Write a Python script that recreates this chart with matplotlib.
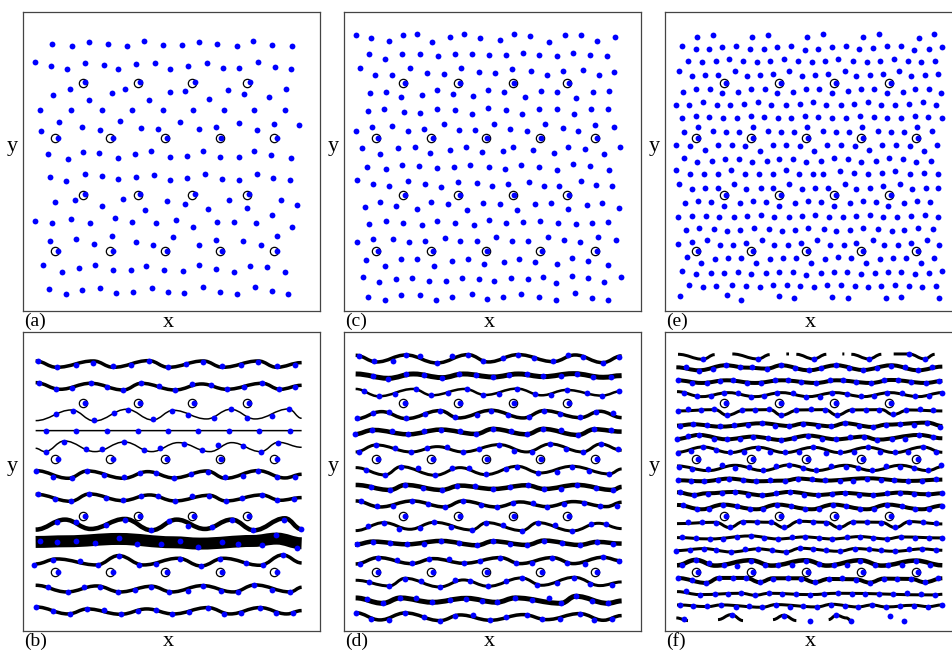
import matplotlib
matplotlib.use('Agg')
import matplotlib.pyplot as plt
from matplotlib.path import Path
from matplotlib.patches import PathPatch

plt.rcParams['font.family'] = ['Liberation Serif', 'DejaVu Serif']

# ---------------- panel (a): particle positions (units: 1/3 px) ----------------
a_dots = [
    [(157,133),(215,137),(267,127),(323,133),(382,137),(432,124),(490,134),(546,136),(596,125),(652,133),(711,137),(760,122),(816,134),(875,138)],
    [(104,187),(154,198),(201,208),(256,190),(311,194),(355,208),(409,193),(464,190),(511,208),(564,197),(620,189),(668,203),(718,203),(775,187),(825,202),(873,207)],
    [(256,247),(421,247),(585,247),(750,247)],
    [(159,286),(211,268),(267,299),(336,280),(374,268),(448,300),(509,277),(556,274),(626,296),(683,270),(731,283),(806,292),(857,268)],
    [(121,331),(214,329),(305,331),(397,331),(488,331),(578,330),(671,329),(761,329),(854,329)],
    [(124,394),(178,366),(247,380),(299,391),(359,363),(422,384),(473,387),(540,365),(597,387),(647,380),(718,370),(772,390),(822,372),(896,375)],
    [(173,415),(338,415),(502,415),(664,415),(830,415)],
    [(145,461),(203,476),(250,457),(298,458),(355,474),(406,463),(452,454),(509,472),(562,468),(608,452),(660,470),(716,470),(763,452),(814,466),(872,475)],
    [(151,530),(199,544),(254,523),(307,528),(355,538),(408,530),(463,525),(511,539),(561,534),(616,523),(665,537),(716,539),(770,522),(819,534),(869,541)],
    [(256,583),(421,583),(585,583),(748,583)],
    [(164,607),(224,601),(307,619),(368,597),(436,631),(501,603),(556,611),(625,626),(686,600),(742,625),(844,601),(892,616)],
    [(104,662),(155,670),(212,656),(271,670),(346,654),(395,666),(469,668),(529,661),(579,680),(652,666),(701,666),(769,670),(815,646),(876,680)],
    [(150,724),(228,716),(283,733),(337,707),(408,726),(458,736),(518,712),(596,735),(649,721),(730,723),(782,734),(832,707)],
    [(175,752),(338,752),(500,752),(665,752),(830,752)],
    [(130,796),(186,815),(238,804),(284,794),(339,811),(392,810),(438,799),(493,810),(549,813),(596,796),(647,806),(703,815),(750,797),(800,802),(856,816)],
    [(147,868),(197,881),(245,871),(300,865),(349,879),(398,877),(456,864),(504,877),(552,879),(610,862),(660,877),(711,882),(766,861),(816,874),(863,882)],
]
a_pins = [(250,248),(415,248),(577,248),(742,248),(165,415),(330,415),(494,415),(659,415),(823,415),
          (250,585),(415,585),(577,585),(742,585),(165,752),(330,752),(494,752),(659,752),(823,752)]

# ---------------- panel (c) ----------------
c_dots = [
    [(107,105),(152,115),(206,124),(248,105),(290,103),(335,125),(389,112),(432,103),(479,114),(539,120),(583,102),(631,108),(687,125),(734,105),(782,106),(831,123),(884,112)],
    [(147,162),(195,176),(246,161),(301,162),(355,169),(406,162),(457,161),(507,166),(559,165),(609,160),(657,166),(711,168),(760,160),(811,165),(862,169)],
    [(119,205),(165,224),(216,224),(271,205),(322,218),(371,221),(424,205),(478,217),(525,220),(575,208),(633,214),(681,224),(729,213),(788,211),(836,225),(883,217)],
    [(256,248),(421,248),(583,248),(748,248)],
    [(150,280),(198,275),(244,290),(306,285),(350,270),(398,282),(460,289),(505,270),(552,277),(614,292),(662,273),(712,275),(768,293),(818,276),(866,273)],
    [(143,334),(193,328),(252,337),(301,340),(350,327),(406,331),(455,343),(505,325),(559,330),(607,343),(658,326),(712,328),(763,341),(813,328),(863,327)],
    [(107,393),(155,381),(217,378),(263,392),(313,387),(371,373),(417,389),(465,391),(522,371),(571,387),(622,392),(675,371),(728,385),(775,394),(826,375),(883,381)],
    [(175,415),(338,415),(500,415),(663,415),(830,415)],
    [(127,444),(180,463),(234,443),(284,441),(331,460),(390,449),(437,440),(486,455),(548,453),(580,440),(640,450),(702,459),(745,440),(796,446),(853,462),(901,441)],
    [(142,500),(199,507),(245,496),(296,497),(352,503),(401,501),(451,496),(506,502),(556,506),(604,495),(658,500),(712,509),(759,493),(811,498),(866,510)],
    [(111,541),(159,553),(208,558),(263,542),(316,551),(363,560),(413,547),(471,548),(517,557),(565,552),(628,546),(673,558),(718,558),(782,543),(827,556),(877,559)],
    [(256,585),(420,585),(583,585),(748,585)],
    [(136,622),(180,607),(227,619),(290,627),(334,606),(384,613),(440,631),(489,608),(540,613),(591,631),(646,612),(693,610),(743,628),(802,615),(847,609),(896,623)],
    [(147,671),(197,663),(250,668),(305,675),(351,662),(404,668),(461,675),(507,661),(559,670),(609,667),(660,664),(713,668),(768,671),(816,668),(865,665)],
    [(111,726),(160,717),(220,717),(266,727),(314,722),(375,713),(421,724),(470,724),(529,710),(576,724),(625,724),(684,710),(733,721),(781,726),(833,711),(888,720)],
    [(175,752),(340,752),(502,752),(665,752),(830,752)],
    [(137,781),(196,798),(242,778),(291,778),(343,798),(396,784),(443,778),(491,792),(551,785),(598,776),(644,785),(710,791),(755,774),(803,784),(865,795)],
    [(129,832),(178,847),(229,837),(277,833),(326,842),(378,842),(425,835),(476,837),(523,842),(574,835),(624,836),(668,832),(709,850),(757,829),(805,835),(851,847),(902,831)],
    [(145,890),(194,899),(242,884),(301,886),(348,899),(396,890),(455,883),(500,897),(548,892),(604,881),(657,892),(708,900),(765,878),(815,895),(864,899)],
]
c_pins = [(250,248),(415,248),(578,248),(742,248),(167,415),(332,415),(497,415),(660,415),(825,415),
          (250,585),(415,585),(578,585),(742,585),(167,752),(332,752),(497,752),(660,752),(825,752)]

# ---------------- panel (e) ----------------
e_dots = [
    [(187,110),(233,104),(350,110),(398,104),(517,112),(565,103),(684,112),(731,101),(852,113),(896,102)],
    [(140,139),(182,147),(222,146),(262,142),(304,139),(345,147),(386,146),(426,141),(467,139),(509,149),(550,146),(591,140),(632,138),(673,147),(715,145),(756,139),(797,139),(837,149),(881,146),(921,140)],
    [(160,183),(202,187),(242,184),(282,177),(325,183),(365,187),(406,184),(446,178),(490,183),(530,187),(571,184),(610,177),(654,183),(695,186),(735,182),(776,177),(818,183),(858,186),(901,184)],
    [(133,214),(170,227),(211,226),(250,224),(299,214),(336,227),(375,226),(414,222),(463,214),(500,227),(541,226),(580,222),(629,214),(664,227),(706,226),(744,222),(793,214),(828,227),(869,225),(909,222)],
    [(272,248),(438,248),(604,248),(768,248)],
    [(145,275),(183,266),(224,268),(262,280),(309,275),(349,266),(389,268),(427,280),(474,275),(512,266),(553,268),(591,280),(638,274),(677,266),(717,268),(756,280),(803,275),(841,266),(882,268),(919,279)],
    [(122,314),(162,314),(204,306),(245,314),(286,314),(328,311),(369,306),(408,314),(452,314),(494,311),(535,306),(574,314),(617,314),(657,313),(699,306),(738,314),(781,314),(822,312),(864,306),(902,314)],
    [(141,354),(182,348),(222,352),(264,354),(305,354),(347,348),(387,352),(429,354),(469,354),(510,348),(550,352),(592,354),(633,354),(675,348),(716,352),(756,354),(797,354),(839,348),(880,352),(922,354)],
    [(148,395),(188,382),(234,392),(273,396),(311,395),(353,382),(398,392),(438,396),(476,395),(517,382),(565,392),(604,396),(641,395),(682,382),(728,392),(767,396),(806,395),(847,382),(892,392)],
    [(190,415),(354,415),(520,415),(684,415),(848,415)],
    [(124,436),(166,438),(210,451),(249,436),(290,436),(330,438),(374,452),(413,436),(454,436),(494,438),(538,452),(577,436),(618,436),(659,438),(702,451),(742,434),(784,436),(824,438),(866,452),(905,436)],
    [(147,474),(185,486),(230,483),(270,476),(311,476),(350,486),(395,483),(432,476),(475,476),(513,486),(558,483),(598,474),(639,476),(677,486),(722,483),(762,474),(803,476),(843,486),(888,483)],
    [(124,511),(166,522),(208,523),(249,522),(289,511),(330,522),(372,523),(413,522),(452,511),(493,522),(535,523),(565,522),(616,514),(658,520),(700,522),(742,520),(781,512),(824,522),(866,520),(908,522)],
    [(133,551),(170,566),(211,565),(250,563),(297,551),(333,566),(377,565),(414,563),(463,551),(500,566),(540,565),(580,563),(631,551),(664,566),(706,565),(744,557),(795,551),(831,566),(872,565),(908,563)],
    [(272,585),(438,585),(604,585),(768,585)],
    [(150,610),(188,604),(227,606),(268,617),(316,610),(353,604),(392,606),(432,617),(479,610),(518,604),(557,606),(596,617),(644,610),(683,604),(723,606),(760,617),(807,610),(847,604),(886,606)],
    [(128,651),(172,648),(212,648),(253,652),(296,651),(336,648),(377,645),(418,650),(461,651),(500,648),(541,645),(582,650),(624,651),(664,648),(705,645),(745,650),(787,651),(828,648),(869,645),(910,650)],
    [(152,689),(192,685),(238,688),(276,693),(316,690),(356,685),(402,688),(442,693),(480,690),(520,685),(566,688),(604,693),(644,690),(684,685),(730,688),(770,693),(808,690),(850,685),(895,688)],
    [(130,732),(172,727),(216,720),(256,734),(295,734),(333,729),(380,720),(418,734),(460,734),(497,729),(546,720),(584,734),(626,734),(662,729),(713,720),(748,734),(790,734),(828,729),(876,720),(912,734)],
    [(190,752),(354,752),(520,752),(684,752),(848,752)],
    [(156,772),(198,789),(240,776),(280,775),(319,775),(362,789),(405,776),(444,775),(484,775),(527,789),(570,776),(609,772),(649,775),(692,789),(735,776),(774,773),(814,775),(857,789),(898,775)],
    [(140,812),(183,823),(227,818),(267,818),(308,816),(349,823),(392,818),(432,816),(473,816),(514,824),(557,818),(597,816),(637,816),(679,823),(720,818),(759,816),(799,816),(840,823),(882,820),(922,814)],
    [(162,856),(205,862),(244,857),(292,854),(332,857),(374,862),(413,854),(456,854),(496,857),(538,862),(576,856),(618,854),(660,858),(700,862),(739,857),(780,854),(822,858),(862,862),(904,857)],
    [(135,889),(275,886),(317,899),(431,888),(477,894),(591,891),(638,894),(752,895),(798,892),(912,895)],
]
e_pins = [(266,248),(432,248),(597,248),(762,248),(183,415),(348,415),(514,415),(679,415),(843,415),
          (266,585),(432,585),(597,585),(762,585),(183,752),(348,752),(514,752),(679,752),(843,752)]

# ---------------- panel (b): snapshot + trajectories ----------------
b_dots = [
    [(113,108),(172,126),(229,119),(280,113),(339,124),(393,119),(446,109),(504,126),(558,118),(609,112),(667,124),(723,119),(773,110),(830,124),(886,119)],
    [(117,173),(168,192),(215,190),(272,175),(321,186),(370,195),(424,175),(476,183),(525,195),(577,177),(632,179),(680,192),(732,185),(787,175),(836,192),(886,187)],
    [(256,235),(421,235),(583,235),(748,235)],
    [(169,267),(218,257),(281,286),(343,264),(383,255),(460,283),(515,258),(564,270),(641,279),(692,253),(741,280),(816,273),(866,253)],
    [(138,317),(229,317),(321,317),(413,317),(505,317),(595,317),(688,317),(778,317),(870,317)],
    [(137,380),(193,350),(257,371),(307,373),(373,351),(432,374),(480,369),(552,356),(607,376),(653,361),(730,362),(782,380),(835,353)],
    [(173,402),(338,402),(502,402),(664,402),(830,402)],
    [(107,437),(160,455),(215,459),(260,439),(313,451),(371,457),(420,444),(467,444),(522,458),(574,448),(625,442),(676,455),(730,452),(775,438),(832,456),(885,456)],
    [(113,508),(165,521),(212,529),(268,507),(319,519),(368,526),(424,512),(473,512),(524,528),(575,512),(628,512),(677,528),(727,520),(785,510),(832,526),(882,523)],
    [(256,572),(421,572),(583,572),(748,572)],
    [(172,591),(227,592),(318,599),(376,585),(452,616),(508,588),(564,603),(637,607),(695,586),(758,616),(853,584),(904,613)],
    [(120,648),(172,652),(227,649),(285,654),(356,639),(412,658),(482,657),(541,648),(595,665),(665,651),(715,658),(785,661),(827,630),(891,670)],
    [(103,721),(158,704),(240,709),(294,719),(356,693),(418,719),(468,717),(539,702),(603,723),(659,701),(737,715),(790,720),(848,691)],
    [(175,740),(338,740),(500,740),(665,740),(830,740)],
    [(145,785),(203,801),(251,787),(299,785),(355,801),(405,794),(453,785),(508,800),(563,797),(608,782),(663,799),(713,800),(763,780),(815,794),(871,801)],
    [(109,846),(160,857),(210,867),(262,853),(313,856),(362,868),(413,858),(468,854),(516,867),(566,862),(623,848),(672,867),(723,864),(780,848),(828,865),(878,865)],
]
b_tracks = [
    [(107,108),(170,127),(280,108),(340,127),(446,107),(505,127),(610,108),(668,127),(775,108),(830,127),(905,113)],
    [(107,173),(180,193),(272,175),(370,195),(424,175),(525,195),(605,177),(680,193),(787,175),(840,193),(905,181)],
    [(107,287),(215,255),(283,288),(380,253),(458,285),(520,256),(620,282),(692,253),(765,282),(866,252),(905,280)],
    [(107,317),(905,317)],
    [(107,370),(135,380),(193,348),(285,380),(373,351),(455,380),(535,353),(630,380),(695,353),(782,380),(835,352),(905,367)],
    [(107,437),(205,460),(262,438),(371,460),(443,440),(522,459),(621,438),(676,460),(774,437),(855,459),(905,448)],
    [(107,508),(212,529),(268,507),(368,527),(449,510),(524,528),(628,511),(677,528),(785,510),(840,526),(905,518)],
    [(107,614),(195,584),(272,612),(375,582),(455,616),(530,584),(615,612),(695,584),(762,616),(855,580),(905,613)],
    [(107,651),(200,649),(356,642),(520,652),(600,656),(760,648),(830,641),(905,655)],
    [(107,717),(170,702),(290,720),(356,692),(430,720),(535,700),(603,723),(670,700),(780,721),(848,690),(905,714)],
    [(107,781),(200,801),(290,783),(360,801),(455,784),(515,801),(608,782),(700,801),(765,780),(871,801),(905,787)],
    [(107,846),(205,867),(262,852),(362,868),(440,852),(520,867),(623,848),(690,867),(780,848),(860,867),(905,857)],
]
b_pins = [(250,235),(415,235),(577,235),(742,235),(165,402),(330,402),(494,402),(659,402),(823,402),
          (250,572),(415,572),(577,572),(742,572),(165,740),(330,740),(494,740),(659,740),(823,740)]

# ---------------- panel (d) ----------------
d_dots = [
    [(117,92),(163,108),(218,107),(258,91),(301,94),(351,114),(397,94),(444,90),(490,108),(548,98),(595,89),(641,99),(700,108),(744,91),(789,97),(848,113),(896,95)],
    [(158,153),(205,162),(258,148),(313,149),(367,158),(418,147),(467,150),(520,155),(568,149),(622,147),(670,154),(722,152),(772,146),(820,155),(873,156)],
    [(131,197),(176,214),(225,206),(287,193),(333,211),(385,205),(441,193),(488,209),(537,208),(591,192),(644,207),(692,210),(740,196),(800,203),(846,212),(896,199)],
    [(256,235),(421,235),(583,235),(748,235)],
    [(110,280),(160,265),(208,262),(259,280),(314,268),(360,257),(405,276),(470,271),(514,257),(564,270),(626,277),(672,258),(721,267),(781,277),(829,260),(878,264)],
    [(105,328),(157,315),(215,318),(265,328),(312,319),(363,315),(420,319),(468,326),(518,312),(573,317),(620,328),(669,312),(723,316),(774,331),(823,313),(874,316)],
    [(117,382),(168,361),(225,368),(274,380),(320,369),(382,366),(429,381),(477,372),(538,360),(583,377),(635,380),(691,357),(738,373),(788,380),(842,358),(893,372)],
    [(175,402),(338,402),(500,402),(663,402),(830,402)],
    [(138,435),(195,449),(243,426),(293,430),(346,451),(397,430),(448,428),(497,448),(558,432),(592,425),(653,443),(711,440),(756,425),(807,438),(868,446)],
    [(153,486),(210,495),(256,480),(309,488),(365,494),(411,484),(466,482),(518,491),(569,487),(624,481),(673,492),(722,492),(771,481),(827,488),(878,495)],
    [(123,528),(170,544),(220,544),(277,529),(325,538),(374,546),(428,529),(482,539),(530,546),(578,533),(638,533),(681,545),(731,538),(793,533),(841,542),(892,544)],
    [(256,572),(420,572),(583,572),(748,572)],
    [(143,604),(192,594),(238,611),(300,609),(343,592),(392,607),(455,614),(498,593),(548,601),(606,617),(653,593),(705,599),(757,618),(812,596),(859,596)],
    [(110,658),(159,651),(209,654),(261,658),(313,656),(363,649),(416,654),(472,661),(518,649),(570,657),(621,660),(672,647),(726,653),(779,659),(831,652),(878,656)],
    [(120,716),(175,698),(230,706),(275,715),(328,702),(386,703),(432,714),(479,707),(541,699),(589,715),(635,714),(697,699),(742,715),(795,716),(849,697),(897,707)],
    [(175,740),(340,740),(502,740),(665,740),(830,740)],
    [(147,772),(208,782),(255,761),(302,768),(359,786),(405,766),(451,767),(505,784),(559,768),(605,760),(652,780),(711,775),(763,758),(811,777),(875,781)],
    [(142,821),(188,835),(241,819),(288,820),(337,832),(389,826),(439,821),(485,827),(530,831),(586,820),(635,825),(686,820),(723,835),(767,814),(817,827),(864,834)],
    [(107,863),(154,881),(206,885),(256,864),(311,877),(360,887),(405,872),(460,870),(511,886),(559,877),(620,870),(667,883),(719,881),(779,867),(822,885),(877,883)],
]
d_tracks = [
    [(107,91),(170,111),(258,90),(351,114),(444,89),(505,111),(595,89),(700,110),(765,90),(848,113),(905,93)],
    [(107,147),(205,160),(280,147),(367,158),(430,147),(520,156),(595,147),(670,155),(760,146),(850,157),(905,152)],
    [(107,192),(176,214),(280,192),(335,211),(435,192),(495,210),(591,191),(665,211),(740,195),(846,212),(905,198)],
    [(107,282),(185,260),(259,281),(360,257),(415,279),(514,256),(610,279),(672,257),(781,278),(840,259),(905,278)],
    [(103,328),(160,315),(265,328),(363,314),(468,327),(518,312),(620,328),(669,312),(774,330),(823,313),(905,320)],
    [(107,381),(168,360),(274,381),(352,365),(429,381),(538,359),(620,381),(691,357),(788,381),(842,357),(905,376)],
    [(107,428),(195,450),(243,425),(346,451),(420,428),(497,449),(592,424),(660,444),(756,424),(868,447),(905,432)],
    [(107,480),(210,495),(256,480),(365,495),(420,482),(520,492),(620,481),(673,492),(771,480),(878,495),(905,486)],
    [(107,528),(180,546),(277,528),(374,546),(428,528),(530,546),(600,531),(681,545),(760,530),(860,545),(905,532)],
    [(107,617),(192,593),(270,613),(343,592),(455,615),(500,593),(606,617),(653,593),(757,618),(835,595),(905,611)],
    [(105,659),(159,650),(261,658),(363,648),(472,661),(518,649),(621,660),(672,647),(779,660),(831,651),(905,656)],
    [(107,717),(175,698),(275,716),(340,701),(432,715),(541,698),(600,716),(697,698),(760,716),(849,697),(905,708)],
    [(107,766),(208,783),(255,760),(359,786),(430,765),(505,784),(605,759),(665,781),(763,757),(840,782),(905,771)],
    [(107,819),(188,835),(241,819),(337,832),(439,820),(530,832),(586,819),(723,835),(767,814),(864,835),(905,828)],
    [(105,863),(180,885),(256,864),(360,887),(420,870),(511,886),(610,869),(680,884),(779,866),(850,886),(905,872)],
]
d_pins = [(250,235),(415,235),(578,235),(742,235),(167,402),(332,402),(497,402),(660,402),(825,402),
          (250,572),(415,572),(578,572),(742,572),(167,740),(332,740),(497,740),(660,740),(825,740)]

# ---------------- panel (f) ----------------
f_dots = [
    [(204,101),(369,101),(536,101),(702,101),(822,87),(869,101)],
    [(152,127),(192,137),(234,131),(272,121),(316,127),(352,127),(396,132),(438,121),(480,128),(521,136),(559,129),(604,121),(642,128),(684,135),(725,128),(769,122),(810,127),(849,136),(890,125)],
    [(130,166),(172,173),(215,173),(256,167),(295,166),(335,173),(378,174),(420,166),(459,166),(499,171),(543,174),(584,166),(624,166),(664,171),(708,174),(747,165),(788,166),(829,172),(872,173),(913,169)],
    [(147,205),(187,214),(227,214),(268,203),(310,205),(347,215),(386,214),(427,204),(473,205),(512,215),(554,215),(592,205),(636,206),(677,214),(716,214),(757,204),(800,205),(841,213),(881,214),(920,204)],
    [(272,235),(438,235),(604,235),(768,235)],
    [(129,257),(159,253),(197,255),(236,253),(276,270),(322,255),(359,256),(402,253),(439,270),(484,256),(527,253),(569,255),(606,270),(650,255),(692,254),(732,255),(774,268),(814,255),(856,253),(894,254)],
    [(136,302),(175,298),(217,300),(255,304),(298,301),(339,300),(381,295),(421,302),(463,302),(504,296),(548,302),(589,304),(630,295),(672,302),(713,306),(754,300),(794,298),(836,300),(877,293),(914,305)],
    [(126,341),(159,333),(192,331),(236,342),(275,342),(316,342),(354,335),(399,339),(439,345),(478,338),(520,333),(561,341),(604,342),(645,337),(686,336),(727,344),(770,341),(811,342),(853,330),(895,337)],
    [(129,383),(167,377),(204,367),(244,375),(285,382),(327,380),(369,368),(404,382),(450,382),(491,381),(535,367),(574,383),(614,382),(656,381),(698,367),(736,380),(779,381),(820,382),(864,367),(904,380)],
    [(190,402),(354,402),(520,402),(684,402),(848,402)],
    [(132,425),(171,433),(220,433),(260,421),(299,428),(342,427),(384,435),(424,423),(462,420),(503,428),(544,435),(589,423),(632,425),(669,428),(711,436),(752,423),(796,425),(836,428),(879,435),(919,421)],
    [(130,466),(168,468),(206,468),(250,465),(282,462),(325,464),(362,468),(405,466),(450,467),(490,462),(530,463),(570,466),(614,467),(653,467),(697,461),(737,465),(777,465),(820,468),(860,467),(903,462)],
    [(136,502),(177,509),(220,507),(262,505),(300,502),(340,509),(382,510),(424,505),(465,502),(506,509),(548,509),(591,506),(630,505),(671,509),(714,509),(755,505),(795,504),(836,507),(879,506),(922,505)],
    [(144,539),(185,552),(221,551),(264,541),(306,543),(344,552),(384,552),(426,539),(467,542),(510,552),(551,553),(594,539),(634,543),(674,552),(716,552),(757,539),(800,543),(840,552),(881,553),(922,542)],
    [(272,572),(438,572),(604,572),(768,572)],
    [(159,590),(202,591),(242,593),(284,607),(325,590),(366,590),(407,592),(447,607),(491,589),(533,590),(573,593),(612,607),(655,591),(697,591),(739,593),(781,607),(823,590),(863,590),(904,593)],
    [(142,637),(183,639),(224,642),(265,642),(306,637),(347,633),(388,639),(429,642),(470,637),(509,637),(551,639),(592,642),(635,637),(674,635),(715,638),(756,642),(797,636),(839,639),(881,639),(922,639)],
    [(124,677),(164,676),(206,672),(244,675),(289,681),(329,673),(369,673),(410,675),(454,681),(494,670),(534,673),(574,676),(614,679),(659,672),(702,673),(739,675),(780,679),(822,673),(861,672),(904,675)],
    [(142,719),(182,706),(222,715),(267,721),(306,723),(347,707),(389,721),(430,721),(472,721),(512,707),(552,718),(596,721),(636,721),(676,707),(719,719),(759,721),(800,721),(842,709),(884,719)],
    [(190,740),(354,740),(520,740),(684,740),(848,740)],
    [(129,759),(172,766),(214,774),(252,759),(294,759),(334,759),(374,771),(414,761),(458,759),(497,761),(539,771),(581,763),(621,760),(662,764),(704,773),(746,761),(787,761),(829,762),(869,772),(909,759)],
    [(154,799),(194,809),(239,806),(279,806),(319,805),(360,811),(402,805),(442,806),(484,807),(524,809),(567,806),(610,805),(651,806),(690,806),(732,806),(774,806),(815,805),(858,808),(900,810)],
    [(134,841),(174,844),(217,844),(259,841),(302,845),(342,844),(382,846),(422,839),(464,845),(504,844),(546,845),(589,839),(629,843),(669,845),(711,841),(752,845),(796,843),(836,842),(880,845),(920,841)],
    [(146,881),(291,869),(446,872),(526,889),(604,871),(649,887),(766,874),(806,887)],
]
f_tracks = [
    [(129,88),(204,103),(239,89)], [(292,87),(369,102),(404,89)], [(454,87),(462,87)],
    [(484,88),(536,102),(574,88)], [(622,87),(628,87)], [(649,88),(702,102),(739,88)],
    [(776,87),(822,87),(869,102),(899,88)],
    [(124,127),(192,136),(272,121),(335,128),(396,131),(438,121),(521,136),(604,121),(684,135),(769,121),(849,136),(922,125)],
    [(126,166),(200,174),(275,166),(360,174),(440,166),(543,174),(604,166),(708,174),(768,165),(872,174),(922,168)],
    [(126,200),(200,215),(280,203),(360,215),(440,203),(520,215),(600,203),(685,215),(765,203),(850,215),(922,203)],
    [(126,258),(240,254),(276,271),(330,255),(405,254),(439,271),(490,255),(570,254),(606,271),(650,255),(740,254),(774,269),(820,255),(922,258)],
    [(126,302),(175,298),(255,305),(381,295),(463,303),(504,296),(589,304),(630,295),(713,306),(754,299),(877,293),(922,303)],
    [(126,342),(192,330),(275,343),(354,335),(439,345),(520,332),(604,343),(686,335),(727,344),(853,330),(922,340)],
    [(126,382),(204,366),(285,383),(369,367),(450,383),(535,367),(614,383),(698,367),(779,383),(864,366),(922,382)],
    [(126,423),(220,437),(300,421),(384,437),(462,420),(544,437),(632,421),(711,437),(796,421),(879,437),(922,425)],
    [(126,466),(206,469),(282,461),(362,469),(450,467),(490,461),(570,467),(697,460),(820,468),(922,464)],
    [(126,502),(177,510),(215,505),(300,501),(382,511),(465,501),(548,510),(630,504),(714,510),(795,503),(879,508),(922,505)],
    [(126,540),(200,553),(264,539),(364,553),(426,539),(530,553),(594,539),(695,553),(757,539),(860,553),(922,542)],
    [(126,596),(242,592),(284,608),(325,590),(407,592),(447,608),(491,589),(573,592),(612,608),(655,591),(739,592),(781,608),(823,590),(922,597)],
    [(126,638),(224,642),(347,633),(429,642),(509,636),(592,642),(674,635),(756,642),(797,636),(922,639)],
    [(124,677),(206,671),(289,681),(369,672),(454,681),(494,670),(614,679),(659,671),(780,679),(861,672),(922,676)],
    [(126,721),(182,705),(240,722),(347,706),(410,722),(512,706),(575,722),(676,706),(740,722),(842,707),(922,721)],
    [(126,759),(214,774),(252,759),(334,759),(374,772),(414,760),(497,760),(539,772),(581,762),(662,763),(704,773),(746,761),(829,762),(869,772),(922,760)],
    [(126,800),(194,809),(319,805),(360,811),(402,805),(524,809),(610,805),(900,810),(922,808)],
    [(126,840),(217,845),(259,840),(382,847),(422,839),(546,846),(589,838),(669,846),(711,840),(752,846),(836,841),(880,845),(922,840)],
    [(124,879),(159,887)], [(249,884),(289,869),(324,887)], [(414,884),(446,871),(484,887)],
    [(581,884),(604,871),(634,879),(649,887)], [(754,884),(774,874),(806,887)], [(910,887),(922,879)],
]
f_pins = [(266,235),(432,235),(597,235),(762,235),(183,402),(348,402),(514,402),(679,402),(843,402),
          (266,572),(432,572),(597,572),(762,572),(183,740),(348,740),(514,740),(679,740),(843,740)]

# line widths of the trajectories, in image pixels
b_width = [3.5, 3.5, 1.5, 1.5, 1.5, 3.5, 3.5, 4.5, 12, 3.5, 3.5, 3.5]
d_width = [3.5, 5, 2.5, 3.5, 4.5, 3, 3, 4.5, 3.5, 3, 4.5, 3.5, 3, 5, 3.5]
f_width = [3] * 7 + [4, 4, 3, 3, 4, 4, 3, 3, 4, 4, 4, 3, 3, 3, 4.5, 4] + [3] * 6

W, H = 953, 651
PX = 72.0 / 100  # points per pixel
BLUE = '#0000ff'


def wave(ax, pts, lw):
    verts = [pts[0]]
    codes = [Path.MOVETO]
    for (x0, y0), (x1, y1) in zip(pts[:-1], pts[1:]):
        d = 0.4 * (x1 - x0)
        verts += [(x0 + d, y0), (x1 - d, y1), (x1, y1)]
        codes += [Path.CURVE4] * 3
    ax.add_patch(PathPatch(Path(verts, codes), fill=False, ec='black', lw=lw * PX,
                           capstyle='butt', joinstyle='round', zorder=2))


def panel(left, top, h, x0, y0, y1, tag, dots, pins, tracks=None, widths=None):
    ax = fig.add_axes([left / W, 1 - (top + h) / H, 297 / W, h / H])
    ax.set_xlim(x0, x0 + 891)
    ax.set_ylim(y1, y0)
    ax.set_xticks([])
    ax.set_yticks([])
    for s in ax.spines.values():
        s.set_color('#444444')
        s.set_linewidth(0.9)
    if tracks is not None:
        for pts, w in zip(tracks, widths):
            wave(ax, pts, w)
    ax.plot([p[0] for p in pins], [p[1] for p in pins], 'o', ms=6, mfc='white',
            mec='black', mew=0.9, zorder=3)
    xs = [p[0] for row in dots for p in row]
    ys = [p[1] for row in dots for p in row]
    ax.plot(xs, ys, 'o', ms=4.2, color=BLUE, mec='none', zorder=4)
    ax.text(-0.036, 0.55, 'y', transform=ax.transAxes, ha='center', va='center', fontsize=16)
    ax.text(0.49, -0.053, 'x', transform=ax.transAxes, ha='center', va='baseline', fontsize=16)
    ax.text(0.004, -0.05, tag, transform=ax.transAxes, ha='left', va='baseline', fontsize=14)
    return ax


fig = plt.figure(figsize=(W / 100, H / 100), dpi=100)
panel(23.3, 11.7, 299, 70, 35, 932, '(a)', a_dots, a_pins)
panel(344.3, 11.7, 299, 73, 35, 932, '(c)', c_dots, c_pins)
panel(665.0, 11.7, 299, 90, 35, 932, '(e)', e_dots, e_pins)
panel(23.3, 332.3, 298.3, 70, 22, 917, '(b)', b_dots, b_pins, b_tracks, b_width)
panel(344.3, 332.3, 298.3, 73, 22, 917, '(d)', d_dots, d_pins, d_tracks, d_width)
panel(665.0, 332.3, 298.3, 90, 22, 917, '(f)', f_dots, f_pins, f_tracks, f_width)

fig.savefig('out.png', dpi=100)
